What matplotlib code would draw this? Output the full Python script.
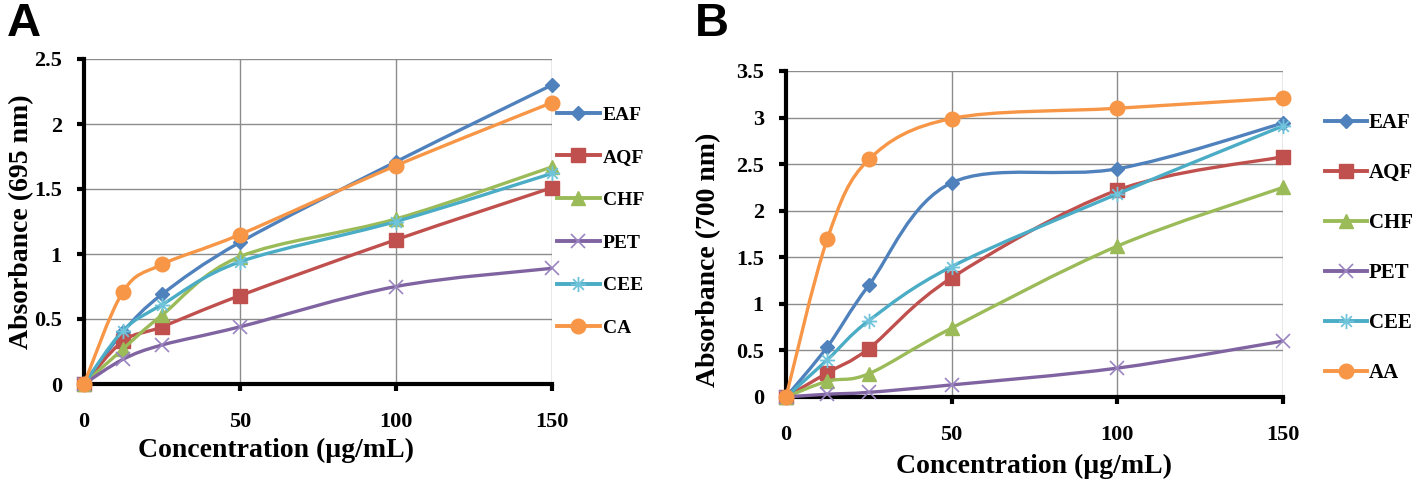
import matplotlib
matplotlib.use("Agg")
import matplotlib.pyplot as plt
from matplotlib.path import Path
from matplotlib.patches import PathPatch
from matplotlib.lines import Line2D

conc = [0, 12.5, 25, 50, 100, 150]

# panel A (695 nm)
a_eaf = [0, 0.40, 0.69, 1.09, 1.71, 2.30]
a_aqf = [0, 0.33, 0.44, 0.68, 1.11, 1.51]
a_chf = [0, 0.27, 0.53, 0.98, 1.27, 1.67]
a_pet = [0, 0.19, 0.30, 0.44, 0.75, 0.89]
a_cee = [0, 0.41, 0.61, 0.94, 1.25, 1.62]
a_ca = [0, 0.71, 0.92, 1.15, 1.68, 2.165]

# panel B (700 nm)
b_eaf = [0, 0.54, 1.20, 2.30, 2.45, 2.94]
b_aqf = [0, 0.26, 0.52, 1.28, 2.22, 2.58]
b_chf = [0, 0.17, 0.25, 0.74, 1.62, 2.25]
b_pet = [0, 0.03, 0.05, 0.13, 0.31, 0.60]
b_cee = [0, 0.40, 0.82, 1.40, 2.18, 2.91]
b_aa = [0, 1.70, 2.55, 2.99, 3.10, 3.21]

labels_a = ["EAF", "AQF", "CHF", "PET", "CEE", "CA"]
labels_b = ["EAF", "AQF", "CHF", "PET", "CEE", "AA"]
colors = ["#4F81BD", "#C0504D", "#9BBB59", "#8064A2", "#4BACC6", "#F79646"]

# excel style asterisk marker
star = Path([(-1, 0), (1, 0), (-0.7, -0.7), (0.7, 0.7), (-0.7, 0.7), (0.7, -0.7), (0, -1), (0, 1)],
            [Path.MOVETO, Path.LINETO] * 4)
mstyles = [
    dict(marker="D", ms=7.5, mfc=colors[0], mec=colors[0]),
    dict(marker="s", ms=9.5, mfc=colors[1], mec=colors[1]),
    dict(marker="^", ms=10, mfc=colors[2], mec=colors[2]),
    dict(marker="x", ms=10, mec="#9A85C0", mew=1.2),
    dict(marker=star, ms=11, mfc="none", mec="#6FC3DA", mew=1.3),
    dict(marker="o", ms=10.5, mfc=colors[5], mec=colors[5]),
]

serif = "Liberation Serif"


def smooth_path(x, y):
    # excel-like smoothed line as cubic bezier segments
    n = len(x)
    verts = [(x[0], y[0])]
    codes = [Path.MOVETO]
    for i in range(n - 1):
        xp, yp = (x[i - 1], y[i - 1]) if i > 0 else (x[i], y[i])
        xn, yn = (x[i + 2], y[i + 2]) if i + 2 < n else (x[i + 1], y[i + 1])
        c1 = (x[i] + (x[i + 1] - xp) / 6, y[i] + (y[i + 1] - yp) / 6)
        c2 = (x[i + 1] - (xn - x[i]) / 6, y[i + 1] - (yn - y[i]) / 6)
        verts += [c1, c2, (x[i + 1], y[i + 1])]
        codes += [Path.CURVE4] * 3
    return Path(verts, codes)


def draw_panel(ax, series, ymax):
    for k, ys in enumerate(series):
        ax.add_patch(PathPatch(smooth_path(conc, ys), fill=False, edgecolor=colors[k],
                               lw=2.4, zorder=3 + k, clip_on=False))
        ax.plot(conc, ys, ls="none", zorder=3 + k, clip_on=False, **mstyles[k])
    ax.set_xlim(0, 150)
    ax.set_ylim(0, ymax)
    ax.set_xticks([0, 50, 100, 150])
    yt = [i * 0.5 for i in range(int(ymax / 0.5) + 1)]
    ax.set_yticks(yt)
    ax.set_yticklabels(["%g" % v for v in yt])
    ax.grid(True, color="#8C8C8C", lw=1.0)
    ax.set_axisbelow(True)
    for s in ["top", "right"]:
        ax.spines[s].set_visible(False)
    for s in ["left", "bottom"]:
        ax.spines[s].set_linewidth(3)
    ax.tick_params(axis="both", width=3, length=5, direction="out")
    ax.tick_params(axis="x", pad=15)
    ax.tick_params(axis="y", pad=11)
    for t in ax.get_xticklabels() + ax.get_yticklabels():
        t.set_fontfamily(serif)
        t.set_fontweight("bold")
        t.set_fontsize(16)
    return [Line2D([], [], color=colors[k], lw=2.8, **mstyles[k]) for k in range(len(series))]


fig = plt.figure(figsize=(14.18, 4.93), dpi=100)
axA = fig.add_axes([84 / 1418, 1 - 384 / 493, 468 / 1418, 325 / 493])
axB = fig.add_axes([786 / 1418, 1 - 397 / 493, 497 / 1418, 326 / 493])

hA = draw_panel(axA, [a_eaf, a_aqf, a_chf, a_pet, a_cee, a_ca], 2.5)
hB = draw_panel(axB, [b_eaf, b_aqf, b_chf, b_pet, b_cee, b_aa], 3.5)

fig.legend(hA, labels_a, loc="center left", bbox_to_anchor=(557 / 1418, 1 - 221.5 / 493),
           frameon=False, handlelength=2.2, handletextpad=0.15, labelspacing=1.29,
           borderpad=0, borderaxespad=0,
           prop=dict(family=serif, weight="bold", size=14))
fig.legend(hB, labels_b, loc="center left", bbox_to_anchor=(1325 / 1418, 1 - 248 / 493),
           frameon=False, handlelength=2.0, handletextpad=0.1, labelspacing=1.44,
           borderpad=0, borderaxespad=0,
           prop=dict(family=serif, weight="bold", size=15))

# axis titles
fig.text(276 / 1418, 1 - 450 / 493, "Concentration (µg/mL)", ha="center", va="center",
         family=serif, weight="bold", size=20)
fig.text(1034 / 1418, 1 - 466 / 493, "Concentration (µg/mL)", ha="center", va="center",
         family=serif, weight="bold", size=20)
fig.text(22 / 1418, 1 - 222 / 493, "Absorbance (695 nm)", ha="center", va="center",
         rotation=90, family=serif, weight="bold", size=20)
fig.text(709 / 1418, 1 - 260 / 493, "Absorbance (700 nm)", ha="center", va="center",
         rotation=90, family=serif, weight="bold", size=20)

# panel letters
fig.text(7 / 1418, 1 - 2 / 493, "A", ha="left", va="top", family="Liberation Sans",
         weight="bold", size=34)
fig.text(695 / 1418, 1 - 2 / 493, "B", ha="left", va="top", family="Liberation Sans",
         weight="bold", size=34)

fig.savefig("out.png", dpi=100)
